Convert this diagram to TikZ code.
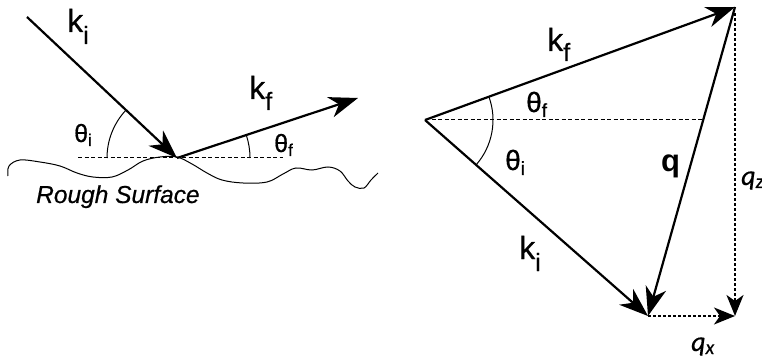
\documentclass[tikz,border=0pt]{standalone}
\usepackage{fontspec}
\setmainfont{Liberation Sans}
\newfontfamily\lblfont{Liberation Sans}[FakeBold=0.6]
\newfontfamily\qfont{Carlito}[FakeBold=0.4]
\usetikzlibrary{arrows.meta}
\newcommand{\subl}[3]{\raisebox{-#1pt}{\fontsize{#2}{#2}\selectfont #3}}
\begin{document}
\begin{tikzpicture}[x=1pt,y=-1pt,
  vec/.style={line width=2.2pt,-{Stealth[length=29pt,width=21pt,inset=9pt]}},
  thinvec/.style={line width=1.8pt,dash pattern=on 3pt off 2pt,-{Stealth[length=21pt,width=17pt,inset=6pt]}},
  ref/.style={line width=1pt,dash pattern=on 4pt off 2.5pt},
  ang/.style={line width=1pt},
  lbl/.style={inner sep=0pt,anchor=base west,font=\lblfont\fontsize{32}{32}\selectfont},
  tlbl/.style={inner sep=0pt,anchor=base west,font=\lblfont\fontsize{25}{25}\selectfont},
  qlbl/.style={inner sep=0pt,anchor=base west,font=\qfont\itshape\fontsize{28}{28}\selectfont}]
\useasboundingbox (0,0) rectangle (762,363);
% ---------- left part ----------
\coordinate (A) at (27,17);
\coordinate (P) at (177,158);
\coordinate (F) at (358,98);
\coordinate (D1) at (78,158);
\coordinate (D2) at (283,158);
\draw[line width=1pt] plot[smooth,tension=0.6] coordinates {
 (8,176) (9,166) (20,160) (40,162) (60,166) (77,173) (93,177) (112,177) (128,170)
 (143,161) (160,157) (177,157) (192,164) (207,173) (222,180) (243,183) (267,182)
 (283,174) (296,168) (312,170) (328,167) (340,171) (348,181) (355,187) (364,188)
 (371,180) (378,173)};
\draw[ref] (D1) -- (D2);
\draw[vec] (A) -- (P);
\draw[vec] (P) -- (F);
\draw[ang] ([shift={(-137:70)}]P) arc[start angle=-137,end angle=-180,radius=70];
\draw[ang] ([shift={(0:73)}]P) arc[start angle=0,end angle=-18.3,radius=73];
\node[lbl] (ki1) at (67,32) {k\subl{12}{25}{i}};
\node[lbl] (kf1) at (249,99) {k\subl{11}{25}{f}};
\node[tlbl] (ti1) at (74,142) {θ\subl{4}{17}{i}};
\node[tlbl] (tf1) at (274,152) {θ\subl{4}{17}{f}};
\node[inner sep=0pt,anchor=base west,font=\lblfont\itshape\fontsize{24.5}{24.5}\selectfont] (rs) at (36,203) {Rough Surface};
% ---------- right part ----------
\coordinate (O) at (425,120);
\coordinate (T) at (735,7);
\coordinate (B) at (648,316);
\coordinate (C) at (735,316);
\coordinate (T2) at (735,13);
\coordinate (H) at (702,120);
\draw[ref] (O) -- (H);
\draw[vec] (O) -- (T);
\draw[vec] (O) -- (B);
\draw[vec] (T) -- (B);
\draw[thinvec] (T2) -- (C);
\draw[thinvec] (B) -- (C);
\draw[ang] ([shift={(41.3:68)}]O) arc[start angle=41.3,end angle=-20,radius=68];
\node[lbl] (kf2) at (547,51) {k\subl{10}{25}{f}};
\node[lbl] (ki2) at (519,259) {k\subl{12}{25}{i}};
\node[tlbl,font=\lblfont\fontsize{28}{28}\selectfont] (tf2) at (526,112) {θ\subl{5}{19}{f}};
\node[tlbl,font=\lblfont\fontsize{28}{28}\selectfont] (ti2) at (505,170) {θ\subl{5}{19}{i}};
\node[inner sep=0pt,anchor=base west,font=\bfseries\fontsize{31}{31}\selectfont] (q) at (661,172) {q};
\node[qlbl] (qz) at (741,185) {q\subl{3}{20}{z}};
\node[qlbl] (qx) at (691,351) {q\subl{3}{20}{x}};
\end{tikzpicture}
\end{document}
